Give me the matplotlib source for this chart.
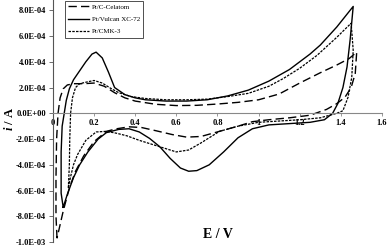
import matplotlib
matplotlib.use("Agg")
import matplotlib.pyplot as plt
import numpy as np

# потенциал E (В) и ток i (в единицах 1e-4 А), замкнутый цикл: анодная ветвь, затем катодная
E_celatom = [0.02, 0.015, 0.015, 0.018, 0.025, 0.035, 0.05, 0.07, 0.10, 0.15, 0.20, 0.25, 0.30,
             0.35, 0.40, 0.50, 0.60, 0.70, 0.80, 0.90, 1.00, 1.10, 1.20, 1.30, 1.38, 1.44, 1.477,
             1.47, 1.45, 1.42, 1.38, 1.33, 1.25, 1.15, 1.05, 0.97, 0.90, 0.81, 0.72, 0.65,
             0.58, 0.50, 0.43, 0.37, 0.31, 0.26, 0.20, 0.15, 0.11, 0.08, 0.05, 0.02]
i_celatom = [-9.7, -8.0, -5.0, -2.0, 0.0, 1.2, 1.9, 2.2, 2.3, 2.3, 2.35, 2.1, 1.6,
             1.2, 0.95, 0.7, 0.6, 0.62, 0.72, 0.85, 1.05, 1.5, 2.35, 3.15, 3.75, 4.25, 4.75,
             3.1, 2.0, 1.25, 0.75, 0.3, -0.15, -0.35, -0.5, -0.65, -1.0, -1.4, -1.8, -1.85,
             -1.65, -1.35, -1.1, -1.05, -1.2, -1.4, -2.2, -3.3, -4.5, -5.8, -7.6, -9.7]

E_vulcan = [0.05, 0.04, 0.04, 0.045, 0.055, 0.065, 0.08, 0.10, 0.13, 0.16, 0.19, 0.21, 0.24,
            0.27, 0.30, 0.35, 0.40, 0.45, 0.55, 0.65, 0.75, 0.85, 0.95, 1.05, 1.15, 1.25,
            1.30, 1.38, 1.46,
            1.445, 1.43, 1.41, 1.385, 1.36, 1.32, 1.25, 1.15, 1.05, 0.97, 0.90, 0.83, 0.76,
            0.70, 0.66, 0.62, 0.57, 0.52, 0.47, 0.42, 0.37, 0.32, 0.26, 0.22, 0.17, 0.13,
            0.10, 0.07, 0.05]
i_vulcan = [-7.3, -6.2, -3.0, -1.0, 0.0, 1.0, 1.9, 2.6, 3.3, 4.0, 4.6, 4.75, 4.3,
            3.2, 2.0, 1.45, 1.2, 1.05, 0.95, 0.95, 1.05, 1.35, 1.8, 2.5, 3.4, 4.6,
            5.3, 6.7, 8.3,
            5.7, 3.6, 2.0, 0.75, 0.0, -0.5, -0.7, -0.8, -0.9, -1.2, -1.9, -3.0, -4.0,
            -4.45, -4.5, -4.25, -3.5, -2.6, -1.95, -1.45, -1.2, -1.25, -1.5, -2.0, -3.0, -4.0,
            -5.0, -6.3, -7.3]

E_cmk3 = [0.075, 0.08, 0.082, 0.086, 0.095, 0.11, 0.13, 0.17, 0.20, 0.24, 0.28, 0.32, 0.38,
          0.45, 0.55, 0.65, 0.75, 0.85, 0.95, 1.05, 1.12, 1.20, 1.284, 1.38, 1.45,
          1.46, 1.453, 1.435, 1.41, 1.38, 1.30, 1.20, 1.10, 1.00, 0.90, 0.81, 0.72, 0.66,
          0.60, 0.54, 0.47, 0.42, 0.36, 0.31, 0.26, 0.21, 0.16, 0.12, 0.10, 0.085, 0.075]
i_cmk3 = [-5.8, -4.0, -2.0, 0.0, 1.2, 2.0, 2.3, 2.45, 2.55, 2.35, 1.95, 1.6, 1.3,
          1.15, 1.05, 1.05, 1.1, 1.3, 1.55, 2.1, 2.7, 3.5, 4.5, 5.9, 7.0,
          4.9, 2.8, 1.25, 0.2, 0.0, -0.35, -0.5, -0.6, -0.7, -1.0, -1.4, -2.3, -2.85,
          -3.0, -2.7, -2.35, -2.1, -1.75, -1.55, -1.4, -1.45, -2.1, -3.2, -4.0, -5.0, -5.8]

labels = ["Pt/C-Celatom", "Pt/Vulcan XC-72", "Pt/CMK-3"]
x_ticks = [0, 0.2, 0.4, 0.6, 0.8, 1.0, 1.2, 1.4, 1.6]
x_ticklabels = ["0", "0.2", "0.4", "0.6", "0.8", "1", "1.2", "1.4", "1.6"]
y_ticks = [-1.0e-3, -8.0e-4, -6.0e-4, -4.0e-4, -2.0e-4, 0.0, 2.0e-4, 4.0e-4, 6.0e-4, 8.0e-4]

plt.rcParams["font.family"] = ["Liberation Serif", "DejaVu Serif"]
plt.rcParams["mathtext.fontset"] = "custom"
plt.rcParams["mathtext.it"] = "Liberation Serif:italic:bold"

fig = plt.figure(figsize=(3.89, 2.47), dpi=100)
ax = fig.add_axes([0.136, 0.02, 0.846, 0.98])

scale = 1e-4
ax.plot(E_celatom, np.array(i_celatom) * scale, color="black", lw=1.0,
        dashes=(6, 3), label=labels[0])
ax.plot(E_vulcan, np.array(i_vulcan) * scale, color="black", lw=1.0, label=labels[1])
ax.plot(E_cmk3, np.array(i_cmk3) * scale, color="black", lw=0.9,
        dashes=(2, 1), label=labels[2])

ax.set_xlim(0, 1.6)
ax.set_ylim(-1.0e-3, 8.8e-4)

for s in ("top", "right"):
    ax.spines[s].set_visible(False)
ax.spines["bottom"].set_position(("data", 0))
ax.spines["bottom"].set_color("#888888")
ax.spines["bottom"].set_linewidth(0.8)
ax.spines["left"].set_color("#555555")
ax.spines["left"].set_linewidth(0.8)

ax.set_xticks(x_ticks)
ax.set_xticklabels(x_ticklabels, fontsize=6, fontweight="bold")
ax.set_yticks(y_ticks)
ax.set_yticklabels([f"{v:.1E}" for v in y_ticks], fontsize=6, fontweight="bold")
ax.tick_params(axis="x", direction="out", length=2, width=0.6, color="#888888", pad=2)
ax.tick_params(axis="y", direction="out", length=3, width=0.6, color="#555555", pad=2)

leg = ax.legend(loc="upper left", bbox_to_anchor=(0.025, 1.012), fontsize=5,
                frameon=True, fancybox=False, handlelength=3.0, handletextpad=0.4,
                borderpad=0.5, labelspacing=0.9)
leg.get_frame().set_edgecolor("black")
leg.get_frame().set_linewidth(0.6)

fig.text(0.56, 0.05, "E / V", fontsize=10, fontweight="bold", ha="center", va="center")
fig.text(0.025, 0.52, r"$i$ / A", fontsize=9, fontweight="bold",
         rotation=90, ha="center", va="center")

fig.savefig("out.png", dpi=100)
